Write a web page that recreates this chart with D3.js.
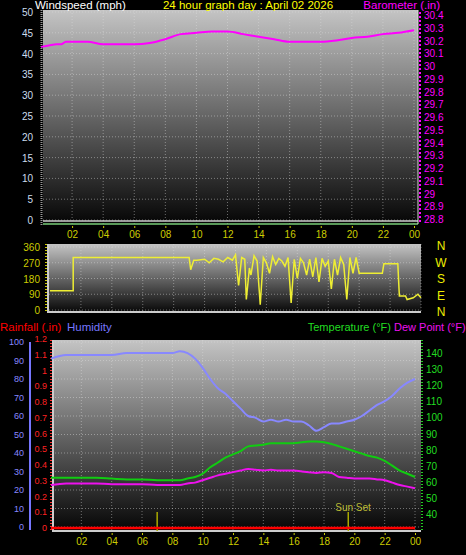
<!DOCTYPE html>
<html><head><meta charset="utf-8">
<script src="https://cdn.jsdelivr.net/npm/d3@7"></script>
<style>body{margin:0;background:#000}svg{display:block}text{font-family:"Liberation Sans",Arial,sans-serif}</style>
</head><body><svg id="c" width="466" height="555"></svg>
<script>
const hourTicks=["02","04","06","08","10","12","14","16","18","20","22","00"];
const windTicks=[0,5,10,15,20,25,30,35,40,45,50];
const baroTicks=[28.8,28.9,29,29.1,29.2,29.3,29.4,29.5,29.6,29.7,29.8,29.9,30,30.1,30.2,30.3,30.4];
const baroH=[0,0.5,1,1.3,1.6,3,4,5,6,7,8,9,10,11,12,13,14,15,16,17,18,19,20,21,22,23,24];
const baroV=[30.15,30.16,30.17,30.17,30.19,30.19,30.17,30.17,30.17,30.18,30.21,30.25,30.26,30.27,30.27,30.25,30.23,30.21,30.19,30.19,30.19,30.2,30.22,30.23,30.25,30.26,30.28];
const dirTicks=[0,90,180,270,360];
const dirH=[0,1.5,1.5,9,9.1,9.3,9.5,10,10.3,10.6,10.9,11.2,11.5,11.8,12,12.2,12.4,12.6,12.7,12.9,13,13.2,13.4,13.6,13.8,14,14.2,14.4,14.6,14.8,15,15.2,15.4,15.6,15.8,16,16.2,16.4,16.6,16.8,17,17.2,17.4,17.6,17.8,18,18.2,18.4,18.6,18.8,19,19.2,19.4,19.6,19.8,20,20.1,21.5,21.6,22.5,22.6,23,23.1,23.5,23.8,24];
const dirV=[110,110,300,300,230,285,285,290,270,295,290,275,300,285,315,140,300,290,60,240,200,310,280,30,300,270,210,305,260,295,280,250,300,40,290,180,295,270,200,290,190,300,160,295,250,280,120,290,200,300,260,60,300,210,300,210,210,210,265,265,80,80,60,70,90,70];
const humTicks=[0,10,20,30,40,50,60,70,80,90,100];
const rainTicks=[0,0.1,0.2,0.3,0.4,0.5,0.6,0.7,0.8,0.9,1,1.1,1.2];
const tempTicks=[40,50,60,70,80,90,100,110,120,130,140];
const seriesH=[0,1,2,3,4,5,6,7,8,8.5,9,9.5,10,10.5,11,11.5,12,12.5,13,13.5,14,14.5,15,15.5,16,16.5,17,17.5,18,18.5,19,19.5,20,20.5,21,21.5,22,22.5,23,23.5,24];
const humV=[91,93,93,93,93,94,94,94,94,95,94,91,86,80,75,72,68,64,60,59,57,58,57,58,57,57,55,52,54,56,56,57,58,60,63,66,68,71,75,78,80];
const tempV=[62.5,62.5,62.5,62.5,62,61.5,61.5,61,61,61,62,63,65,69,72,75,77,79,82,82.5,83,84,84,84,84,84.5,85,85,84.5,83.5,82,80.5,79,77.5,76,75,73,70,67,65,63];
const dewV=[58,59,59,59,58.5,58.5,58.5,58,58,58,59,59.5,61,62.5,64,65,66,67,68,67.5,67,67.5,67,67,67,66.5,66,65.5,66,65.5,63,62.5,62,62,62,61.5,61,59.5,58,57,56];
const rainH=[0,24];const rainV=[0,0];
const sunH=[7,19.6];

const svg=d3.select("#c");
const defs=svg.append("defs");
const g=defs.append("linearGradient").attr("id","bg").attr("x1",0).attr("y1",0).attr("x2",0).attr("y2",1);
g.append("stop").attr("offset",0).attr("stop-color","#c4c4c4");
g.append("stop").attr("offset",1).attr("stop-color","#050505");

function txt(x,y,s,c,a,fs){return svg.append("text").attr("x",x).attr("y",y).attr("fill",c).attr("text-anchor",a||"start").attr("font-size",fs||11).text(s);}
function panel(x0,x1,y0,y1,xs,yTicksY){
  svg.append("rect").attr("x",x0).attr("y",y0).attr("width",x1-x0).attr("height",y1-y0).attr("fill","url(#bg)");
  yTicksY.forEach(y=>svg.append("line").attr("x1",x0).attr("x2",x1).attr("y1",y).attr("y2",y).attr("stroke","#ddd").attr("stroke-opacity",0.45).attr("stroke-dasharray","1,2"));
  d3.range(2,25,2).forEach(h=>svg.append("line").attr("x1",xs(h)).attr("x2",xs(h)).attr("y1",y0).attr("y2",y1).attr("stroke","#ddd").attr("stroke-opacity",0.45).attr("stroke-dasharray","1,2"));
}
// ---- top panel
const x1s=d3.scaleLinear().domain([0,24]).range([41,414]);
const wy=d3.scaleLinear().domain([0,50]).range([220,12]);
const by=d3.scaleLinear().domain([28.8,30.4]).range([219,15]);
panel(43,418,10,224,x1s,windTicks.map(wy));
svg.append("line").attr("x1",43).attr("x2",418).attr("y1",221).attr("y2",221).attr("stroke","#ccc").attr("stroke-width",1.5);
svg.append("line").attr("x1",43).attr("x2",418).attr("y1",224).attr("y2",224).attr("stroke","#7c7").attr("stroke-width",1.5);
svg.append("line").attr("x1",418).attr("x2",418).attr("y1",10).attr("y2",224).attr("stroke","#ddd");
svg.append("line").attr("x1",41.5).attr("x2",41.5).attr("y1",10).attr("y2",226).attr("stroke","#999").attr("stroke-dasharray","1,1").attr("stroke-width",2);
windTicks.forEach(v=>txt(33,wy(v)+4,v,"#cde","end",10));
baroTicks.forEach(v=>txt(424,by(v)+4,v,"#f0f","start",10));
svg.append("line").attr("x1",420).attr("x2",420).attr("y1",12).attr("y2",222).attr("stroke","#f0f").attr("stroke-dasharray","2,2").attr("stroke-width",2);
svg.append("g").attr("transform","translate(0,226)").call(d3.axisBottom(x1s).tickValues(d3.range(2,25,2)).tickFormat((d,i)=>hourTicks[i]).tickSize(2))
 .call(a=>{a.select(".domain").remove();a.selectAll("text").attr("fill","#cc0").attr("font-size",10);a.selectAll("line").attr("stroke","#cc0");});
svg.append("path").datum(baroH.map((h,i)=>[h,baroV[i]])).attr("fill","none").attr("stroke","#f0f").attr("stroke-width",2)
 .attr("d",d3.line().x(d=>x1s(d[0])).y(d=>by(d[1])).curve(d3.curveMonotoneX));
txt(35,9,"Windspeed (mph)","#fff","start",11.5);
txt(248,9,"24 hour graph day : April 02 2026","#ff0","middle",11.5);
txt(440,9,"Barometer (.in)","#f0f","end",11.5);
// ---- middle panel
const x2s=d3.scaleLinear().domain([0,24]).range([50,421]);
const dy=d3.scaleLinear().domain([0,360]).range([310,247]);
panel(49,421,244,313,x2s,dirTicks.map(dy));
svg.append("line").attr("x1",49).attr("x2",421).attr("y1",312).attr("y2",312).attr("stroke","#ccc").attr("stroke-width",2);
svg.append("line").attr("x1",48).attr("x2",48).attr("y1",244).attr("y2",313).attr("stroke","#ccc").attr("stroke-width",2);
svg.append("line").attr("x1",46).attr("x2",46).attr("y1",244).attr("y2",313).attr("stroke","#cc0").attr("stroke-dasharray","1,2").attr("stroke-width",2);
dirTicks.forEach(v=>txt(40,dy(v)+4,v,"#cc0","end",10));
svg.append("path").datum(dirH.map((h,i)=>[h,dirV[i]])).attr("fill","none").attr("stroke","#ee3").attr("stroke-width",1.5)
 .attr("d",d3.line().x(d=>x2s(d[0])).y(d=>dy(d[1])));
["N","W","S","E","N"].forEach((s,i)=>txt(441,250+i*16.5,s,"#ee0","middle",12));
// ---- bottom panel
const x3s=d3.scaleLinear().domain([0,24]).range([51,415]);
const hy=d3.scaleLinear().domain([0,100]).range([527,342]);
const ry=d3.scaleLinear().domain([0,1.2]).range([528,339]);
const ty=d3.scaleLinear().domain([40,140]).range([514,353]);
panel(52,421,340,531,x3s,humTicks.map(hy));
svg.append("line").attr("x1",52).attr("x2",421).attr("y1",531).attr("y2",531).attr("stroke","#ccc").attr("stroke-width",2);
svg.append("line").attr("x1",53).attr("x2",53).attr("y1",340).attr("y2",531).attr("stroke","#ccc").attr("stroke-width",2);
svg.append("line").attr("x1",30).attr("x2",30).attr("y1",342).attr("y2",530).attr("stroke","#77f").attr("stroke-width",2);
svg.append("line").attr("x1",51).attr("x2",51).attr("y1",340).attr("y2",531).attr("stroke","#f33").attr("stroke-dasharray","1,2").attr("stroke-width",2);
svg.append("line").attr("x1",422).attr("x2",422).attr("y1",340).attr("y2",531).attr("stroke","#2c2").attr("stroke-dasharray","1,2").attr("stroke-width",2);
humTicks.forEach(v=>txt(24,hy(v)+3,v,"#88f","end",9));
rainTicks.forEach(v=>txt(47,ry(v)+3,v,"#f22","end",9));
tempTicks.forEach(v=>txt(426,ty(v)+4,v,"#2d2","start",10));
svg.append("g").attr("transform","translate(0,533)").call(d3.axisBottom(x3s).tickValues(d3.range(2,25,2)).tickFormat((d,i)=>hourTicks[i]).tickSize(2))
 .call(a=>{a.select(".domain").remove();a.selectAll("text").attr("fill","#cc0").attr("font-size",10);a.selectAll("line").attr("stroke","#cc0");});
const ln=(ys)=>d3.line().x(d=>x3s(d[0])).y(d=>ys(d[1])).curve(d3.curveMonotoneX);
sunH.forEach(h=>svg.append("line").attr("x1",x3s(h)).attr("x2",x3s(h)).attr("y1",512).attr("y2",531).attr("stroke","#aa0").attr("stroke-width",1.5));
txt(x3s(19.6)-13,511,"Sun Set","#bb3","start",10);
svg.append("path").datum(seriesH.map((h,i)=>[h,humV[i]])).attr("fill","none").attr("stroke","#88f").attr("stroke-width",2).attr("d",ln(hy));
svg.append("path").datum(seriesH.map((h,i)=>[h,tempV[i]])).attr("fill","none").attr("stroke","#1c1").attr("stroke-width",2).attr("d",ln(ty));
svg.append("path").datum(seriesH.map((h,i)=>[h,dewV[i]])).attr("fill","none").attr("stroke","#e1e").attr("stroke-width",2).attr("d",ln(ty));
svg.append("path").datum(rainH.map((h,i)=>[h,rainV[i]])).attr("fill","none").attr("stroke","#f00").attr("stroke-width",2.5).attr("d",d3.line().x(d=>x3s(d[0])).y(d=>ry(d[1])));
txt(0,331,"Rainfall (.in)","#f00","start",11.5);
txt(67,331,"Humidity","#77f","start",11.5);
txt(391,331,"Temperature (°F)","#2d2","end",11);
txt(394,331,"Dew Point (°F)","#e1e","start",11);
</script></body></html>
